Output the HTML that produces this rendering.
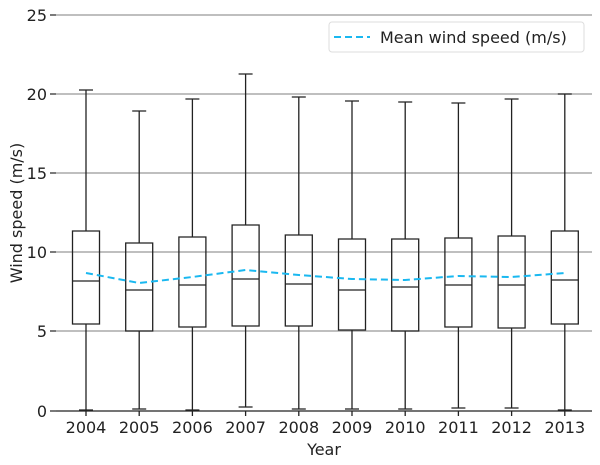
<!DOCTYPE html>
<html><head><meta charset="utf-8"><style>body{margin:0;background:#fff}svg{display:block}text{font-family:"DejaVu Sans","Liberation Sans",sans-serif;fill:#222}</style></head>
<body>
<svg width="600" height="465" viewBox="0 0 600 465" xmlns="http://www.w3.org/2000/svg">
<g stroke="#999" stroke-width="1.2">
<line x1="56" y1="15" x2="592" y2="15"/><line x1="56" y1="94" x2="592" y2="94"/><line x1="56" y1="173" x2="592" y2="173"/><line x1="56" y1="252" x2="592" y2="252"/><line x1="56" y1="331" x2="592" y2="331"/>
</g>
<g stroke="#222" stroke-width="1.2">
<line x1="50" y1="15" x2="56" y2="15"/><line x1="50" y1="94" x2="56" y2="94"/><line x1="50" y1="173" x2="56" y2="173"/><line x1="50" y1="252" x2="56" y2="252"/><line x1="50" y1="331" x2="56" y2="331"/><line x1="50" y1="411" x2="56" y2="411"/>
<line x1="56" y1="411" x2="592" y2="411"/>
</g>
<g font-size="16" text-anchor="end">
<text x="47" y="21">25</text><text x="47" y="100">20</text><text x="47" y="179">15</text><text x="47" y="258">10</text><text x="47" y="337">5</text><text x="47" y="417">0</text>
</g>
<text transform="translate(22,213) rotate(-90)" font-size="16" text-anchor="middle">Wind speed (m/s)</text>
<text x="324" y="455" font-size="16" text-anchor="middle">Year</text>
<g stroke="#222" stroke-width="1.3" fill="none">
<path d="M86 90V231M86 324V410M79 90H93M79 410H93M72.5 231H99.5V324H72.5ZM72.5 281H99.5M86 411V416"/>
<path d="M139.2 111V243M139.2 331V409M132.2 111H146.2M132.2 409H146.2M125.7 243H152.7V331H125.7ZM125.7 290H152.7M139.2 411V416"/>
<path d="M192.4 99V237M192.4 327V410M185.4 99H199.4M185.4 410H199.4M178.9 237H205.9V327H178.9ZM178.9 285H205.9M192.4 411V416"/>
<path d="M245.6 74V225M245.6 326V407M238.6 74H252.6M238.6 407H252.6M232.1 225H259.1V326H232.1ZM232.1 279H259.1M245.6 411V416"/>
<path d="M298.8 97V235M298.8 326V409M291.8 97H305.8M291.8 409H305.8M285.3 235H312.3V326H285.3ZM285.3 284H312.3M298.8 411V416"/>
<path d="M352 101V239M352 330V409M345 101H359M345 409H359M338.5 239H365.5V330H338.5ZM338.5 290H365.5M352 411V416"/>
<path d="M405.2 102V239M405.2 331V409M398.2 102H412.2M398.2 409H412.2M391.7 239H418.7V331H391.7ZM391.7 287H418.7M405.2 411V416"/>
<path d="M458.4 103V238M458.4 327V408M451.4 103H465.4M451.4 408H465.4M444.9 238H471.9V327H444.9ZM444.9 285H471.9M458.4 411V416"/>
<path d="M511.6 99V236M511.6 328V408M504.6 99H518.6M504.6 408H518.6M498.1 236H525.1V328H498.1ZM498.1 285H525.1M511.6 411V416"/>
<path d="M564.8 94V231M564.8 324V410M557.8 94H571.8M557.8 410H571.8M551.3 231H578.3V324H551.3ZM551.3 280H578.3M564.8 411V416"/>
</g>
<g font-size="16" text-anchor="middle">
<text x="86" y="433">2004</text><text x="139.2" y="433">2005</text><text x="192.4" y="433">2006</text><text x="245.6" y="433">2007</text><text x="298.8" y="433">2008</text><text x="352" y="433">2009</text><text x="405.2" y="433">2010</text><text x="458.4" y="433">2011</text><text x="511.6" y="433">2012</text><text x="564.8" y="433">2013</text>
</g>
<polyline points="86,273 139.2,283 192.4,277 245.6,270 298.8,275 352,279 405.2,280 458.4,276 511.6,277 564.8,273" fill="none" stroke="#1ab8f0" stroke-width="2" stroke-dasharray="7,4"/>
<rect x="329" y="22" width="255" height="30" rx="3" fill="#fff" stroke="#ddd"/>
<line x1="334" y1="37" x2="370" y2="37" stroke="#1ab8f0" stroke-width="2" stroke-dasharray="7,4"/>
<text x="380" y="43" font-size="16">Mean wind speed (m/s)</text>
</svg>
</body></html>
